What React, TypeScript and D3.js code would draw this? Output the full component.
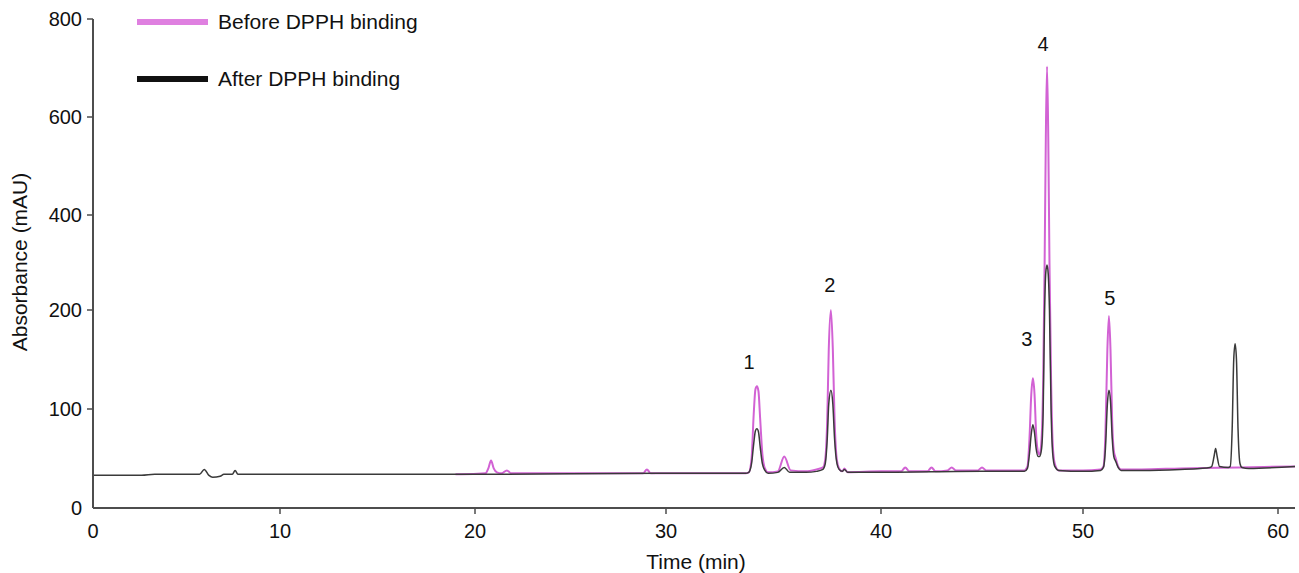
import * as d3 from 'd3';

// HPLC traces, as [time (min), absorbance (mAU)]
const beforeTrace: [number, number][] = [
  [19.0, 34], [19.3, 34], [20.55, 35], [20.7, 40], [20.84, 48], [20.98, 40], [21.15, 36], [21.4, 35], [21.67, 38], [21.9, 35],
  [27.5, 35], [28.8, 35], [29.0, 39], [29.2, 35], [31.5, 35], [33.7, 35],
  [33.85, 36], [33.98, 50], [34.08, 95], [34.16, 120], [34.23, 123], [34.3, 118], [34.38, 90], [34.48, 55], [34.6, 40], [34.75, 36],
  [35.2, 37], [35.5, 52], [35.8, 38], [36.5, 37], [37.0, 39], [37.3, 41],
  [37.4, 48], [37.5, 90], [37.57, 160], [37.67, 200], [37.76, 160], [37.84, 90], [37.95, 48], [38.05, 40], [38.2, 37], [38.3, 40], [38.45, 36],
  [40, 37], [41.0, 37], [41.2, 41], [41.4, 37], [42.3, 37], [42.5, 41], [42.7, 37], [43.3, 38], [43.5, 41], [43.7, 38],
  [44.8, 38], [45.0, 41], [45.2, 38], [47.1, 38],
  [47.25, 42], [47.35, 70], [47.44, 115], [47.52, 131], [47.6, 115], [47.68, 75], [47.78, 56], [47.85, 54],
  [47.95, 70], [48.03, 130], [48.1, 300], [48.16, 560], [48.22, 703], [48.28, 560], [48.34, 300], [48.42, 130],
  [48.5, 65], [48.6, 45], [48.8, 38],
  [50, 38], [50.9, 39],
  [51.05, 42], [51.15, 75], [51.25, 160], [51.33, 194], [51.41, 160], [51.5, 85], [51.58, 58], [51.68, 50], [51.8, 42], [51.95, 39],
  [53, 39], [55, 40], [58, 41], [60.87, 42],
];

const afterTrace: [number, number][] = [
  [0, 33], [2.6, 33], [3.3, 34], [5.7, 34], [5.95, 39], [6.2, 33], [6.4, 31], [6.8, 32], [7.0, 34],
  [7.45, 34], [7.6, 38], [7.75, 34], [20, 34], [30, 35], [33.7, 35],
  [33.85, 36], [33.98, 45], [34.08, 65], [34.16, 78], [34.23, 80], [34.3, 77], [34.38, 62], [34.48, 45], [34.6, 38], [34.75, 35],
  [35.2, 36], [35.5, 41], [35.75, 36], [36.5, 36], [37.0, 37], [37.3, 39],
  [37.4, 44], [37.5, 70], [37.57, 105], [37.67, 119], [37.76, 105], [37.84, 70], [37.95, 45], [38.05, 39], [38.2, 37], [38.3, 39], [38.45, 36],
  [40, 36], [45, 37], [47.1, 37],
  [47.25, 40], [47.35, 55], [47.44, 75], [47.52, 84], [47.6, 76], [47.68, 60], [47.78, 52], [47.85, 52],
  [47.95, 60], [48.03, 100], [48.1, 200], [48.16, 280], [48.22, 295], [48.28, 275], [48.34, 200], [48.42, 100],
  [48.5, 55], [48.6, 42], [48.8, 38],
  [50, 37], [50.9, 38],
  [51.05, 41], [51.15, 60], [51.25, 105], [51.33, 119], [51.41, 108], [51.5, 70], [51.58, 52], [51.68, 47], [51.8, 41], [51.95, 38],
  [53, 38], [55, 39], [56.0, 40], [56.5, 41],
  [56.6, 42], [56.72, 52], [56.8, 60], [56.88, 52], [57.0, 42], [57.45, 41],
  [57.55, 42], [57.65, 80], [57.73, 150], [57.8, 166], [57.87, 150], [57.95, 80], [58.05, 45], [58.15, 41], [58.5, 40], [60.87, 42],
];

const xTicks = [0, 10, 20, 30, 40, 50, 60];
const yTicks = [0, 100, 200, 400, 600, 800];

const peakNames = ['1', '2', '3', '4', '5'];
const peakTimes = [34.23, 37.67, 47.52, 48.22, 51.33];
const peakHeights = [123, 200, 131, 703, 194];

const seriesNames = ['Before DPPH binding', 'After DPPH binding'];

const FONT = 'Liberation Sans, Arial, Helvetica, sans-serif';

export default function App() {
  const width = 1299;
  const height = 573;

  // the published axes are not evenly spaced, so both scales are piecewise
  const x = d3.scaleLinear()
    .domain([0, 10, 20, 30, 40, 50, 60, 60.87])
    .range([93, 280, 475, 666, 881, 1083, 1278, 1295]);
  const y = d3.scaleLinear()
    .domain(yTicks)
    .range([508, 409, 310, 215, 117, 19]);

  const line = d3.line<[number, number]>()
    .x(d => x(d[0]))
    .y(d => y(d[1]))
    .curve(d3.curveMonotoneX);

  const axisColor = '#4d4d4d';
  const magenta = '#d262d4';
  const dark = '#3a3a3a';
  // label offsets (px) to sit the numbers over each peak
  const labelOffsets = [[-8, -24], [-1, -25], [-6, -39], [-4, -23], [1, -18]];

  return (
    <svg width={width} height={height} style={{ position: 'absolute', left: 0, top: 0, background: '#fff' }}
      fontFamily={FONT}>
      {/* traces */}
      <path d={line(beforeTrace) ?? ''} fill="none" stroke={magenta} strokeWidth={2} strokeLinejoin="round" />
      <path d={line(afterTrace) ?? ''} fill="none" stroke={dark} strokeWidth={1.5} strokeLinejoin="round" />

      {/* axes */}
      <line x1={x(0)} x2={x(60.87)} y1={y(0)} y2={y(0)} stroke={axisColor} strokeWidth={2} />
      <line x1={x(0)} x2={x(0)} y1={y(0)} y2={y(800)} stroke={axisColor} strokeWidth={2} />
      {xTicks.map(t => (
        <g key={t}>
          {t > 0 && <line x1={x(t)} x2={x(t)} y1={y(0)} y2={y(0) + 6} stroke={axisColor} strokeWidth={1.5} />}
          <text x={x(t)} y={538} textAnchor="middle" fontSize={20} fill="#111">{t}</text>
        </g>
      ))}
      {yTicks.map(v => (
        <g key={v}>
          {v > 0 && <line x1={x(0) - 6} x2={x(0)} y1={y(v)} y2={y(v)} stroke={axisColor} strokeWidth={1.5} />}
          <text x={82} y={y(v)} dy="0.35em" textAnchor="end" fontSize={20} fill="#111">{v}</text>
        </g>
      ))}
      <text x={(x(0) + x(60.87)) / 2 + 2} y={569} textAnchor="middle" fontSize={21} fill="#111">Time (min)</text>
      <text transform="translate(27,262) rotate(-90)" textAnchor="middle" fontSize={21} fill="#111">Absorbance (mAU)</text>

      {/* peak numbers */}
      {peakNames.map((name, i) => (
        <text key={name} x={x(peakTimes[i]) + labelOffsets[i][0]} y={y(peakHeights[i]) + labelOffsets[i][1]}
          dy="0.35em" textAnchor="middle" fontSize={20} fill="#111">{name}</text>
      ))}

      {/* legend */}
      {seriesNames.map((name, i) => (
        <g key={name} transform={`translate(137,${22 + i * 57})`}>
          <line x1={0} x2={71} y1={0} y2={0} stroke={i === 0 ? '#df80e0' : '#111'} strokeWidth={6} />
          <text x={81} y={0} dy="0.35em" fontSize={21} fill="#111">{name}</text>
        </g>
      ))}
    </svg>
  );
}
